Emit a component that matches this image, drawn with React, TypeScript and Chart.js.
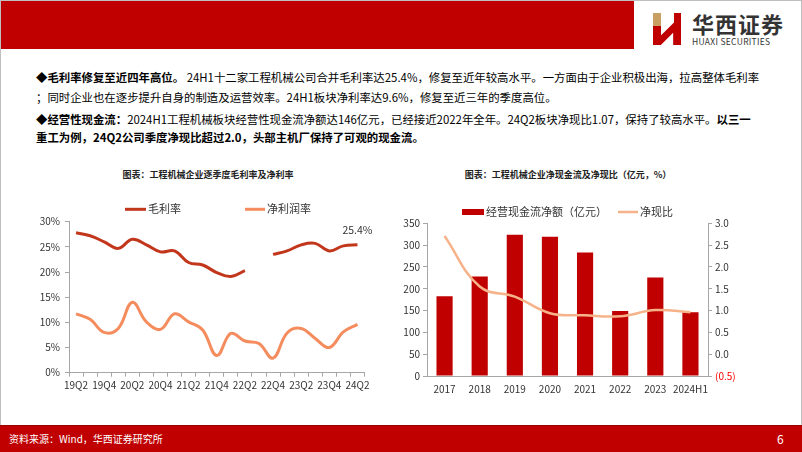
import React, { useEffect, useRef } from "react";
import { Chart, registerables } from "chart.js";

Chart.register(...registerables);

const FONT = '"Noto Sans CJK SC", "Noto Sans", sans-serif';

// ---- Left chart data ----
const quarters = ["19Q2","19Q3","19Q4","20Q1","20Q2","20Q3","20Q4","21Q1","21Q2","21Q3","21Q4","22Q1","22Q2","22Q3","22Q4","23Q1","23Q2","23Q3","23Q4","24Q1","24Q2"];
const grossMargin: (number | null)[] = [27.8,27.2,26.0,24.7,26.5,25.4,24.0,24.2,21.9,21.4,19.9,19.1,20.3,null,23.5,24.2,25.4,25.7,24.2,25.2,25.4];
const netMargin = [11.7,10.6,8.0,8.8,14.0,10.1,8.6,11.7,10.1,8.5,3.4,7.8,6.3,5.8,2.9,7.9,8.8,6.8,5.0,8.1,9.6];
const marginSeriesNames = ["毛利率", "净利润率"];
const marginTicks = [0, 5, 10, 15, 20, 25, 30];

// ---- Right chart data ----
const years = ["2017","2018","2019","2020","2021","2022","2023","2024H1"];
const cashFlow = [183, 228, 324, 319, 283, 149, 226, 146];
const cashRatio = [2.71, 1.55, 1.32, 0.94, 0.89, 0.87, 1.01, 0.96];
const cashSeriesNames = ["经营现金流净额（亿元）", "净现比"];

type LegendItem = { index: number; kind: "line" | "rect"; x: number; y: number; w: number };

function makeLegend(items: LegendItem[]) {
  return {
    id: "posLegend",
    afterDraw(chart: any) {
      const ctx = chart.ctx as CanvasRenderingContext2D;
      ctx.save();
      ctx.font = `11px ${FONT}`;
      ctx.textBaseline = "middle";
      items.forEach((it) => {
        const ds: any = chart.data.datasets[it.index];
        if (it.kind === "rect") {
          ctx.fillStyle = ds.backgroundColor;
          ctx.fillRect(it.x, it.y - 3, it.w, 6);
        } else {
          ctx.strokeStyle = ds.borderColor;
          ctx.lineWidth = ds.borderWidth;
          ctx.lineCap = "butt";
          ctx.beginPath();
          ctx.moveTo(it.x, it.y);
          ctx.lineTo(it.x + it.w, it.y);
          ctx.stroke();
        }
        ctx.fillStyle = "#333";
        ctx.textAlign = "left";
        ctx.fillText(ds.label, it.x + it.w + 2, it.y);
      });
      ctx.restore();
    },
  };
}

const lastLabelPlugin = {
  id: "lastLabel",
  afterDatasetsDraw(chart: any) {
    const meta = chart.getDatasetMeta(0);
    const data = chart.data.datasets[0].data as (number | null)[];
    const i = data.length - 1;
    const pt = meta.data[i];
    if (!pt || data[i] == null) return;
    const ctx = chart.ctx as CanvasRenderingContext2D;
    ctx.save();
    ctx.font = `10.5px ${FONT}`;
    ctx.fillStyle = "#333";
    ctx.textAlign = "center";
    ctx.textBaseline = "middle";
    ctx.fillText(`${(data[i] as number).toFixed(1)}%`, pt.x, pt.y - 15);
    ctx.restore();
  },
};

const AXIS = "#A6A6A6";
const TICK_FONT = { family: FONT, size: 10 };

function LeftChart() {
  const ref = useRef<HTMLCanvasElement>(null);
  useEffect(() => {
    const chart = new Chart(ref.current!, {
      type: "line",
      data: {
        labels: quarters,
        datasets: [
          { label: marginSeriesNames[0], data: grossMargin, borderColor: "#C2361B", borderWidth: 3, pointRadius: 0, tension: 0.4, spanGaps: false },
          { label: marginSeriesNames[1], data: netMargin, borderColor: "#F58C5E", borderWidth: 3, pointRadius: 0, tension: 0.4 },
        ],
      },
      options: {
        responsive: false,
        animation: false,
        layout: { padding: { left: 0, right: 15.5, top: 26.7, bottom: 7.3 } },
        plugins: { legend: { display: false }, tooltip: { enabled: false } },
        scales: {
          x: {
            offset: true,
            grid: { offset: true, drawOnChartArea: false, tickLength: 4, color: AXIS },
            border: { color: AXIS },
            ticks: {
              autoSkip: false,
              maxRotation: 0,
              padding: 3,
              color: "#333",
              font: TICK_FONT,
              callback: (_v: any, i: number) => (i % 2 === 0 ? quarters[i] : ""),
            },
            afterFit: (s: any) => { s.height = 25; },
          },
          y: {
            min: marginTicks[0],
            max: marginTicks[marginTicks.length - 1],
            ticks: { stepSize: 5, padding: 5, color: "#333", font: TICK_FONT, callback: (v: any) => `${v}%` },
            grid: { drawOnChartArea: false, tickLength: 4, color: AXIS },
            border: { color: AXIS },
            afterFit: (s: any) => { s.width = 49; },
          },
        },
      },
      plugins: [
        makeLegend([
          { index: 0, kind: "line", x: 105, y: 14.3, w: 21 },
          { index: 1, kind: "line", x: 225, y: 14.3, w: 20 },
        ]),
        lastLabelPlugin,
      ],
    } as any);
    return () => chart.destroy();
  }, []);
  return (
    <canvas ref={ref} width={360} height={210}
      style={{ position: "absolute", left: 20, top: 195, width: 360, height: 210 }} />
  );
}

function RightChart() {
  const ref = useRef<HTMLCanvasElement>(null);
  useEffect(() => {
    const chart = new Chart(ref.current!, {
      type: "bar",
      data: {
        labels: years,
        datasets: [
          { type: "bar", label: cashSeriesNames[0], data: cashFlow, backgroundColor: "#C00000", yAxisID: "y", barPercentage: 0.46, categoryPercentage: 1, order: 1 },
          { type: "line", label: cashSeriesNames[1], data: cashRatio, borderColor: "#F6B38A", borderWidth: 2.5, pointRadius: 0, tension: 0.4, yAxisID: "y1", order: 0 },
        ],
      },
      options: {
        responsive: false,
        animation: false,
        layout: { padding: { left: 0, right: 22, top: 28.3, bottom: 5 } },
        plugins: { legend: { display: false }, tooltip: { enabled: false } },
        scales: {
          x: {
            grid: { drawOnChartArea: false, drawTicks: false, color: AXIS },
            border: { color: AXIS },
            ticks: { padding: 7, color: "#333", font: TICK_FONT, maxRotation: 0, autoSkip: false },
            afterFit: (s: any) => { s.height = 24; },
          },
          y: {
            position: "left",
            min: 0,
            max: 350,
            ticks: { stepSize: 50, padding: 3, color: "#333", font: TICK_FONT },
            grid: { drawOnChartArea: false, tickLength: 4, color: AXIS },
            border: { color: AXIS },
            afterFit: (s: any) => { s.width = 37; },
          },
          y1: {
            position: "right",
            min: -0.5,
            max: 3.0,
            ticks: {
              stepSize: 0.5,
              padding: 3,
              font: TICK_FONT,
              color: (c: any) => (c.tick && c.tick.value < 0 ? "#FF0000" : "#333"),
              callback: (v: any) => (v < 0 ? `(${Math.abs(v).toFixed(1)})` : Number(v).toFixed(1)),
            },
            grid: { drawOnChartArea: false, tickLength: 4, color: AXIS },
            border: { color: AXIS },
            afterFit: (s: any) => { s.width = 40; },
          },
        },
      },
      plugins: [
        makeLegend([
          { index: 0, kind: "rect", x: 72, y: 17, w: 22 },
          { index: 1, kind: "line", x: 228, y: 17, w: 20 },
        ]),
      ],
    } as any);
    return () => chart.destroy();
  }, []);
  return (
    <canvas ref={ref} width={380} height={210}
      style={{ position: "absolute", left: 390, top: 195, width: 380, height: 210 }} />
  );
}

const lineStyle: React.CSSProperties = {
  position: "absolute",
  left: 36,
  fontSize: 11.4,
  lineHeight: "16px",
  whiteSpace: "nowrap",
  color: "#000",
};

export default function App() {
  return (
    <div style={{ position: "fixed", left: 0, top: 0, width: 802, height: 452, background: "#fff", overflow: "hidden", fontFamily: FONT }}>
      {/* header */}
      <div style={{ position: "absolute", left: 0, top: 0, width: 634, height: 49, background: "#C00000" }} />
      <div style={{ position: "absolute", left: 0, top: 0, width: 800, height: 450, border: "1px solid #BFBFBF" }} />
      {/* logo mark */}
      <div style={{ position: "absolute", left: 653, top: 13, width: 8, height: 17, background: "#C9A064" }} />
      <div style={{ position: "absolute", left: 653, top: 26, width: 8, height: 19, background: "#C00000" }} />
      <div style={{ position: "absolute", left: 653, top: 13, width: 28, height: 32, background: "#C00000", clipPath: "polygon(75% 0, 100% 0, 100% 100%, 72% 100%, 72% 62%, 28% 100%, 28% 70%, 75% 30%)" }} />
      <div style={{ position: "absolute", left: 692, top: 10, fontSize: 22, fontWeight: 700, color: "#333", letterSpacing: 1, lineHeight: "26px", whiteSpace: "nowrap" }}>华西证券</div>
      <div style={{ position: "absolute", left: 692, top: 36, fontSize: 8.5, color: "#333", lineHeight: "11px", letterSpacing: 0.3, whiteSpace: "nowrap" }}>HUAXI SECURITIES</div>

      {/* body text */}
      <div style={{ ...lineStyle, top: 69 }}>
        <b>◆毛利率修复至近四年高位。</b> 24H1十二家工程机械公司合并毛利率达25.4%，修复至近年较高水平。一方面由于企业积极出海，拉高整体毛利率
      </div>
      <div style={{ ...lineStyle, top: 89 }}>
        ；同时企业也在逐步提升自身的制造及运营效率。24H1板块净利率达9.6%，修复至近三年的季度高位。
      </div>
      <div style={{ ...lineStyle, top: 111 }}>
        <b>◆经营性现金流：</b>2024H1工程机械板块经营性现金流净额达146亿元，已经接近2022年全年。24Q2板块净现比1.07，保持了较高水平。<b>以三一</b>
      </div>
      <div style={{ ...lineStyle, top: 129 }}>
        <b>重工为例，24Q2公司季度净现比超过2.0，头部主机厂保持了可观的现金流。</b>
      </div>

      {/* chart titles */}
      <div style={{ position: "absolute", left: 208, top: 168, transform: "translateX(-50%)", fontSize: 9, fontWeight: 700, color: "#222", whiteSpace: "nowrap", lineHeight: "14px" }}>
        图表：工程机械企业逐季度毛利率及净利率
      </div>
      <div style={{ position: "absolute", left: 568, top: 168, transform: "translateX(-50%)", fontSize: 9, fontWeight: 700, color: "#222", whiteSpace: "nowrap", lineHeight: "14px" }}>
        图表：工程机械企业净现金流及净现比（亿元，%）
      </div>

      <LeftChart />
      <RightChart />

      {/* footer */}
      <div style={{ position: "absolute", left: 0, top: 425, width: 802, height: 27, background: "#C00000", borderTop: "1px solid #9E0000" }} />
      <div style={{ position: "absolute", left: 9, top: 432, fontSize: 10, color: "#fff", lineHeight: "14px", whiteSpace: "nowrap" }}>
        资料来源：Wind，华西证券研究所
      </div>
      <div style={{ position: "absolute", left: 777, top: 431, fontSize: 12, color: "#fff", lineHeight: "16px" }}>6</div>
    </div>
  );
}
